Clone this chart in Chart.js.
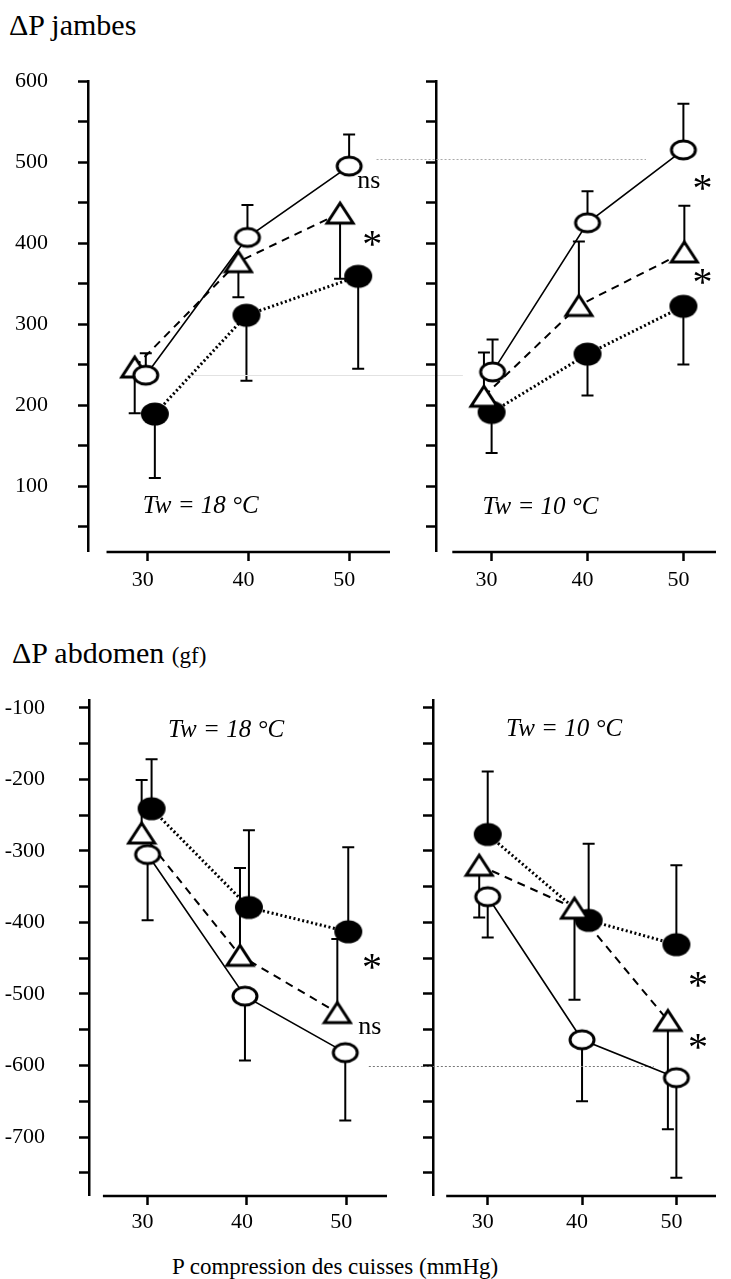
<!DOCTYPE html>
<html>
<head>
<meta charset="utf-8">
<script src="https://cdn.jsdelivr.net/npm/chart.js@4.4.1/dist/chart.umd.min.js"></script>
<style>
  body { margin: 0; background: #fff; width: 731px; height: 1279px; position: relative; overflow: hidden;
         font-family: 'Liberation Serif', 'Times New Roman', serif; color: #000; }
  canvas { position: absolute; left: 0; top: 0; }
  .titre { position: absolute; font-size: 30px; line-height: 1; white-space: nowrap; }
</style>
</head>
<body>
<div class="titre" style="left:9px;top:10px">ΔP jambes</div>
<div class="titre" style="left:12px;top:638px">ΔP abdomen <span style="font-size:23px">(gf)</span></div>
<div class="titre" style="left:172px;top:1255px;font-size:23px">P compression des cuisses (mmHg)</div>
<canvas id="jambes18" width="731" height="1279"></canvas>
<canvas id="jambes10" width="731" height="1279"></canvas>
<canvas id="abdo18" width="731" height="1279"></canvas>
<canvas id="abdo10" width="731" height="1279"></canvas>
<script>
// graduations
const graduationsX = [30, 40, 50];
const graduationsJambes = [50, 100, 150, 200, 250, 300, 350, 400, 450, 500, 550, 600];
const graduationsAbdomen = [-750, -700, -650, -600, -550, -500, -450, -400, -350, -300, -250, -200, -150, -100];

// et = écart-type (+ barre vers le haut, - barre vers le bas)
// ΔP jambes, Tw = 18 °C
const jambes18RondX = [29.8, 39.9, 50.0];
const jambes18Rond = [237, 407, 495];
const jambes18RondEt = [27, 40, 39];
const jambes18TriX = [28.7, 39.0, 49.1];
const jambes18Tri = [247, 377, 437];
const jambes18TriEt = [-57, -44, -81];
const jambes18PleinX = [30.7, 39.8, 50.9];
const jambes18Plein = [189, 311, 359];
const jambes18PleinEt = [-79, -81, -114];

// ΔP jambes, Tw = 10 °C
const jambes10RondX = [30.1, 40.0, 50.0];
const jambes10Rond = [241, 425, 515];
const jambes10RondEt = [40, 39, 57];
const jambes10TriX = [29.2, 39.1, 50.1];
const jambes10Tri = [211, 323, 389];
const jambes10TriEt = [54, 79, 57];
const jambes10PleinX = [30.0, 40.0, 50.0];
const jambes10Plein = [191, 263, 322];
const jambes10PleinEt = [-50, -51, -72];

// ΔP abdomen, Tw = 18 °C
const abdo18RondX = [30.0, 39.8, 49.9];
const abdo18Rond = [-305, -503, -582];
const abdo18RondEt = [-92, -90, -95];
const abdo18TriX = [29.4, 39.3, 49.1];
const abdo18Tri = [-275, -446, -526];
const abdo18TriEt = [74, 122, 103];
const abdo18PleinX = [30.4, 40.2, 50.2];
const abdo18Plein = [-241, -379, -413];
const abdo18PleinEt = [69, 108, 118];

// ΔP abdomen, Tw = 10 °C
const abdo10RondX = [30.0, 40.0, 50.0];
const abdo10Rond = [-364, -564, -617];
const abdo10RondEt = [-57, -86, -140];
const abdo10TriX = [29.1, 39.2, 49.1];
const abdo10Tri = [-320, -380, -537];
const abdo10TriEt = [-73, -128, -152];
const abdo10PleinX = [30.0, 40.7, 50.0];
const abdo10Plein = [-277, -397, -431];
const abdo10PleinEt = [88, 107, 111];

const police = "'Liberation Serif', 'Times New Roman', serif";
Chart.defaults.font.family = police;
Chart.defaults.color = '#000';

function marqueur(type) {
    const c = document.createElement('canvas');
    c.width = 32; c.height = 28;
    const g = c.getContext('2d');
    g.strokeStyle = '#000';
    g.lineWidth = 3;
    g.beginPath();
    if (type === 'rond') {
        g.ellipse(16, 14, 12, 9, 0, 0, 2 * Math.PI);
        g.fillStyle = '#fff'; g.fill(); g.stroke();
    } else if (type === 'plein') {
        g.ellipse(16, 14, 14, 11.5, 0, 0, 2 * Math.PI);
        g.fillStyle = '#000'; g.fill();
    } else {
        g.moveTo(16, 4); g.lineTo(29, 24); g.lineTo(3, 24); g.closePath();
        g.fillStyle = '#fff'; g.fill(); g.stroke();
    }
    return c;
}
const styles = {
    rond: { marker: marqueur('rond'), lw: 1.6, dash: [] },
    tri: { marker: marqueur('tri'), lw: 2, dash: [8, 6] },
    plein: { marker: marqueur('plein'), lw: 3, dash: [2, 2.5] }
};

const barres = {
    id: 'barres',
    beforeDatasetsDraw(chart) {
        const g = chart.ctx, ys = chart.scales.y;
        g.save();
        g.strokeStyle = '#000';
        g.lineWidth = 2;
        chart.data.datasets.forEach((ds, i) => {
            chart.getDatasetMeta(i).data.forEach((pt, j) => {
                const fin = ys.getPixelForValue(ds.data[j].y + ds.et[j]);
                g.beginPath();
                g.moveTo(pt.x, pt.y); g.lineTo(pt.x, fin);
                g.moveTo(pt.x - 6, fin); g.lineTo(pt.x + 6, fin);
                g.stroke();
            });
        });
        g.restore();
    }
};

const decor = {
    id: 'decor',
    beforeDatasetsDraw(chart, args, o) {
        const g = chart.ctx, xs = chart.scales.x, ys = chart.scales.y, a = chart.chartArea;
        g.save();
        g.strokeStyle = '#000';
        g.lineWidth = 2.5;
        g.beginPath();
        g.moveTo(xs.getPixelForValue(o.debutAxe), a.bottom + 1);
        g.lineTo(a.right, a.bottom + 1);
        g.stroke();
        (o.reperes || []).forEach(r => {
            const y = Math.round(ys.getPixelForValue(r.y)) + 0.5;
            g.strokeStyle = r.couleur;
            g.lineWidth = 1;
            g.setLineDash(r.tirets);
            g.beginPath();
            g.moveTo(xs.getPixelForValue(r.x0), y);
            g.lineTo(xs.getPixelForValue(r.x1), y);
            g.stroke();
        });
        g.restore();
    },
    afterDraw(chart, args, o) {
        const g = chart.ctx, xs = chart.scales.x, ys = chart.scales.y;
        g.save();
        g.fillStyle = '#000';
        (o.textes || []).forEach(t => {
            g.font = t.font + ' ' + police;
            g.textAlign = t.align || 'left';
            g.textBaseline = t.base || 'alphabetic';
            g.fillText(t.t, xs.getPixelForValue(t.x), ys.getPixelForValue(t.y) + (t.dy || 0));
        });
        g.restore();
    }
};

// astérisque de signification
function etoile(x, y) {
    return { t: '*', x: x, y: y, font: '40px', align: 'center', base: 'middle', dy: 6 };
}

function serie(x, y, et, style) {
    const s = styles[style];
    return {
        data: x.map((v, i) => ({ x: v, y: y[i] })),
        et: et,
        borderColor: '#000',
        borderWidth: s.lw,
        borderDash: s.dash,
        pointStyle: s.marker,
        pointRadius: 12,
        fill: false,
        tension: 0
    };
}

function panneau(id, p) {
    new Chart(document.getElementById(id), {
        type: 'line',
        data: { datasets: p.series },
        options: {
            responsive: false,
            animation: false,
            devicePixelRatio: 1,
            layout: { padding: p.padding },
            plugins: {
                legend: { display: false },
                tooltip: { enabled: false },
                decor: p.decor
            },
            scales: {
                x: {
                    type: 'linear', min: p.xMin, max: p.xMax,
                    afterBuildTicks: s => { s.ticks = graduationsX.map(v => ({ value: v })); },
                    afterFit: s => { s.height = 50; },
                    border: { display: false },
                    grid: { drawOnChartArea: false, tickLength: 10, tickWidth: 2.5, tickColor: '#000' },
                    ticks: { color: '#000', font: { family: police, size: 22 }, padding: p.xPad,
                             labelOffset: -5, maxRotation: 0, autoSkip: false }
                },
                y: {
                    type: 'linear', min: p.yMin, max: p.yMax,
                    afterBuildTicks: s => { s.ticks = p.yTicks.map(v => ({ value: v })); },
                    afterFit: s => { s.width = p.yLarg; },
                    border: { display: true, width: 2.5, color: '#000' },
                    grid: { drawOnChartArea: false, tickLength: 10, tickWidth: 2.5, tickColor: '#000' },
                    ticks: { color: '#000', font: { family: police, size: 22 }, padding: p.yPad, autoSkip: false,
                             callback: v => (p.labels && v % 100 === 0) ? String(v) : '' }
                }
            }
        },
        plugins: [barres, decor]
    });
}

panneau('jambes18', {
    padding: { left: 0, top: 81, right: 341, bottom: 678 },
    xMin: 24.06, xMax: 54.06, yMin: 20, yMax: 600, yTicks: graduationsJambes,
    yLarg: 88, yPad: 30, xPad: 6, labels: true,
    series: [
        serie(jambes18RondX, jambes18Rond, jambes18RondEt, 'rond'),
        serie(jambes18TriX, jambes18Tri, jambes18TriEt, 'tri'),
        serie(jambes18PleinX, jambes18Plein, jambes18PleinEt, 'plein')
    ],
    decor: {
        debutAxe: 25.9,
        reperes: [{ y: 237, x0: 33.9, x1: 61.3, couleur: '#e2e2e2', tirets: [] }],
        textes: [
            { t: 'Tw = 18 °C', x: 29.5, y: 66.7, font: 'italic 25px' },
            { t: 'ns', x: 50.8, y: 468, font: '26px' },
            etoile(52.3, 403.7)
        ]
    }
});

panneau('jambes10', {
    padding: { left: 400, top: 81, right: 0, bottom: 678 },
    xMin: 24.2, xMax: 53.4, yMin: 20, yMax: 600, yTicks: graduationsJambes,
    yLarg: 36, yPad: 0, xPad: 6, labels: false,
    series: [
        serie(jambes10RondX, jambes10Rond, jambes10RondEt, 'rond'),
        serie(jambes10TriX, jambes10Tri, jambes10TriEt, 'tri'),
        serie(jambes10PleinX, jambes10Plein, jambes10PleinEt, 'plein')
    ],
    decor: {
        debutAxe: 25.9,
        reperes: [{ y: 504, x0: 18, x1: 46.1, couleur: '#aaaaaa', tirets: [2, 2] }],
        textes: [
            { t: 'Tw = 10 °C', x: 29.05, y: 65.4, font: 'italic 25px' },
            etoile(52.0, 472.8),
            etoile(52.0, 356.8)
        ]
    }
});

panneau('abdo18', {
    padding: { left: 0, top: 700, right: 344, bottom: 34 },
    xMin: 24.1, xMax: 54.1, yMin: -781, yMax: -89, yTicks: graduationsAbdomen,
    yLarg: 89, yPad: 34, xPad: 4, labels: true,
    series: [
        serie(abdo18RondX, abdo18Rond, abdo18RondEt, 'rond'),
        serie(abdo18TriX, abdo18Tri, abdo18TriEt, 'tri'),
        serie(abdo18PleinX, abdo18Plein, abdo18PleinEt, 'plein')
    ],
    decor: {
        debutAxe: 25.5,
        reperes: [],
        textes: [
            { t: 'Tw = 18 °C', x: 32.06, y: -140.6, font: 'italic 25px' },
            etoile(52.6, -457),
            { t: 'ns', x: 51.2, y: -556, font: '26px' }
        ]
    }
});

panneau('abdo10', {
    padding: { left: 400, top: 700, right: 0, bottom: 34 },
    xMin: 24.2, xMax: 54.2, yMin: -781, yMax: -89, yTicks: graduationsAbdomen,
    yLarg: 33, yPad: 0, xPad: 4, labels: false,
    series: [
        serie(abdo10RondX, abdo10Rond, abdo10RondEt, 'rond'),
        serie(abdo10TriX, abdo10Tri, abdo10TriEt, 'tri'),
        serie(abdo10PleinX, abdo10Plein, abdo10PleinEt, 'plein')
    ],
    decor: {
        debutAxe: 25.6,
        reperes: [{ y: -600, x0: 17.4, x1: 47.6, couleur: '#777777', tirets: [2, 2] }],
        textes: [
            { t: 'Tw = 10 °C', x: 31.95, y: -139, font: 'italic 25px' },
            etoile(52.3, -482.5),
            etoile(52.3, -569)
        ]
    }
});
</script>
</body>
</html>
